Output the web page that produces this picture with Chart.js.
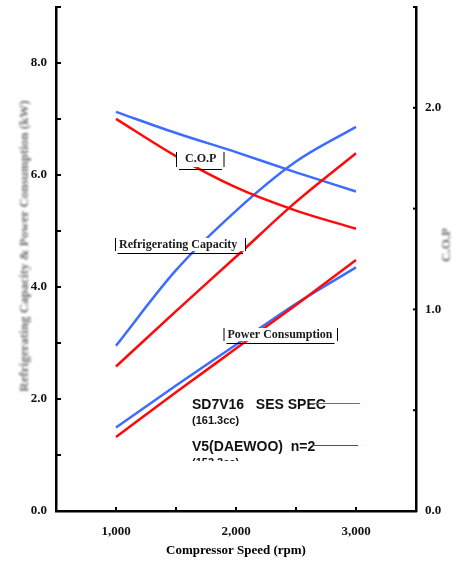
<!DOCTYPE html>
<html>
<head>
<meta charset="utf-8">
<script src="https://cdn.jsdelivr.net/npm/chart.js@4.4.0/dist/chart.umd.min.js"></script>
<style>
  html, body { margin: 0; padding: 0; background: #fff; }
  #wrap { width: 458px; height: 561px; }
</style>
</head>
<body>
<div id="wrap"><canvas id="myChart" width="458" height="561"></canvas></div>
<script>
// compressor speed (rpm)
var speeds = [1000, 1500, 2000, 2500, 3000];

// SD7V16 SES SPEC (blue)
var copSD7 = [1.98, 1.875, 1.78, 1.68, 1.585];
var capSD7 = [2.95, 4.30, 5.36, 6.24, 6.86];
var powSD7 = [1.49, 2.24, 2.97, 3.70, 4.35];

// V5(DAEWOO) n=2 (red)
var copV5 = [1.945, 1.76, 1.605, 1.49, 1.40];
var capV5 = [2.58, 3.57, 4.54, 5.52, 6.39];
var powV5 = [1.32, 2.12, 2.90, 3.68, 4.48];

// which ticks get a label
var xTickLabels = [1000, 2000, 3000];
var leftTickLabels = [0, 2, 4, 6, 8];
var rightTickLabels = [0, 1, 2];

var BLUE = '#3d6cff';
var RED = '#ff0a0a';
var serif = '"Liberation Serif", "Times New Roman", serif';
var sans = '"Liberation Sans", Arial, sans-serif';

function pts(vals) {
    return speeds.map(function(s, i) { return {x: s, y: vals[i]}; });
}

function line(vals, color, axis) {
    return {
        data: pts(vals),
        yAxisID: axis,
        borderColor: color,
        borderWidth: 2.5,
        pointRadius: 0,
        fill: false,
        cubicInterpolationMode: 'monotone'
    };
}

// little boxed captions on the curves
var captions = [
    {text: 'C.O.P', x: 185, y: 159, l: 176.5, r: 224, top: 152, bot: 167, ul: [179, 222, 169.5]},
    {text: 'Refrigerating Capacity', x: 119, y: 244.5, l: 115.5, r: 245.5, top: 238, bot: 251, ul: [117.5, 243, 253.5]},
    {text: 'Power Consumption', x: 227.5, y: 335, l: 224, r: 337.5, top: 328, bot: 341, ul: [226.5, 334.5, 343.5]}
];

var extras = {
    id: 'extras',
    afterDraw: function(chart) {
        var ctx = chart.ctx, a = chart.chartArea;
        var sx = chart.scales.x, sy = chart.scales.y, sy1 = chart.scales.y1;
        ctx.save();

        // inward tick marks
        ctx.strokeStyle = '#000';
        ctx.lineWidth = 2;
        sx.ticks.forEach(function(t) {
            var px = sx.getPixelForValue(t.value);
            if (px <= a.left + 3 || px >= a.right - 3) return;
            ctx.beginPath(); ctx.moveTo(px, a.bottom); ctx.lineTo(px, a.bottom - 4); ctx.stroke();
        });
        sy.ticks.forEach(function(t) {
            var py = sy.getPixelForValue(t.value);
            if (py >= a.bottom - 3) return;
            ctx.beginPath(); ctx.moveTo(a.left, py); ctx.lineTo(a.left + 5, py); ctx.stroke();
        });
        sy1.ticks.forEach(function(t) {
            var py = sy1.getPixelForValue(t.value);
            if (py >= a.bottom - 3) return;
            ctx.beginPath(); ctx.moveTo(a.right - 3, py); ctx.lineTo(a.right + 1, py); ctx.stroke();
        });

        // captions
        ctx.lineWidth = 1;
        ctx.fillStyle = '#1a1a1a';
        ctx.font = 'bold 12px ' + serif;
        ctx.textAlign = 'left';
        ctx.textBaseline = 'middle';
        captions.forEach(function(c) {
            ctx.fillStyle = '#fff';
            ctx.fillRect(c.l, c.top, c.r - c.l, c.bot - c.top);
            ctx.fillStyle = '#1a1a1a';
            ctx.fillText(c.text, c.x, c.y);
            ctx.beginPath();
            ctx.moveTo(c.l, c.top); ctx.lineTo(c.l, c.bot);
            ctx.moveTo(c.r, c.top); ctx.lineTo(c.r, c.bot);
            ctx.moveTo(c.ul[0], c.ul[2]); ctx.lineTo(c.ul[1], c.ul[2]);
            ctx.stroke();
        });

        // legend
        ctx.fillStyle = '#111';
        ctx.textBaseline = 'alphabetic';
        ctx.font = 'bold 14px ' + sans;
        ctx.fillText('SD7V16   SES SPEC', 192, 409);
        ctx.fillText('V5(DAEWOO)  n=2', 192, 451);
        ctx.font = 'bold 11px ' + sans;
        ctx.fillText('(161.3cc)', 192, 424);
        ctx.save();
        ctx.beginPath(); ctx.rect(180, 440, 120, 21); ctx.clip();
        ctx.fillText('(153.3cc)', 192, 466);
        ctx.restore();
        ctx.lineWidth = 1;
        ctx.strokeStyle = BLUE;
        ctx.beginPath(); ctx.moveTo(310, 403.5); ctx.lineTo(360, 403.5); ctx.stroke();
        ctx.strokeStyle = RED;
        ctx.beginPath(); ctx.moveTo(312, 445.5); ctx.lineTo(358, 445.5); ctx.stroke();

        // axis titles
        ctx.textAlign = 'center';
        ctx.textBaseline = 'middle';
        ctx.fillStyle = '#000';
        ctx.font = 'bold 13px ' + serif;
        ctx.fillText('Compressor Speed (rpm)', 236, 551);

        ctx.filter = 'blur(0.8px)';
        ctx.fillStyle = '#6e6e6e';
        ctx.save();
        ctx.translate(25, 246); ctx.rotate(-Math.PI / 2);
        ctx.fillText('Refrigerating Capacity & Power Consumption (kW)', 0, 0);
        ctx.restore();
        ctx.save();
        ctx.translate(447, 245); ctx.rotate(-Math.PI / 2);
        ctx.fillText('C.O.P', 0, 0);
        ctx.restore();

        ctx.restore();
    }
};

var axisBorder = {display: true, color: '#000', width: 2.5};
var noGrid = {drawOnChartArea: false, drawTicks: false};
var tickFont = {family: serif, size: 13, weight: 'bold', lineHeight: 1};

function fixWidth(w) {
    return function(s) {
        s.width = w;
        s.paddingTop = 0;
        s.paddingBottom = 0;
    };
}

ctx = document.getElementById('myChart');
myLineChart = new Chart(ctx, {
    type: 'line',
    data: {
        datasets: [
            line(copV5, RED, 'y1'),
            line(capV5, RED, 'y'),
            line(powV5, RED, 'y'),
            line(copSD7, BLUE, 'y1'),
            line(capSD7, BLUE, 'y'),
            line(powSD7, BLUE, 'y')
        ]
    },
    options: {
        responsive: false,
        animation: false,
        layout: {padding: {top: 7, left: 0, right: 0, bottom: 0}},
        plugins: {legend: {display: false}, tooltip: {enabled: false}},
        scales: {
            x: {
                type: 'linear', min: 500, max: 3500,
                border: axisBorder, grid: noGrid,
                afterFit: function(s) { s.height = 50; s.paddingLeft = 0; s.paddingRight = 0; },
                ticks: {
                    stepSize: 500, autoSkip: false, maxRotation: 0, padding: 14,
                    color: '#111', font: tickFont,
                    callback: function(v) { return xTickLabels.indexOf(v) >= 0 ? v.toLocaleString('en-US') : ''; }
                }
            },
            y: {
                position: 'left', min: 0, max: 9,
                border: axisBorder, grid: noGrid,
                afterFit: fixWidth(56),
                ticks: {
                    stepSize: 1, autoSkip: false, padding: 9,
                    color: '#111', font: tickFont,
                    callback: function(v) { return leftTickLabels.indexOf(v) >= 0 ? v.toFixed(1) : ''; }
                }
            },
            y1: {
                position: 'right', min: 0, max: 2.5,
                border: axisBorder, grid: noGrid,
                afterFit: fixWidth(42),
                ticks: {
                    stepSize: 0.5, autoSkip: false, padding: 9,
                    color: '#111', font: tickFont,
                    callback: function(v) { return rightTickLabels.indexOf(v) >= 0 ? v.toFixed(1) : ''; }
                }
            }
        }
    },
    plugins: [extras]
});
</script>
</body>
</html>
